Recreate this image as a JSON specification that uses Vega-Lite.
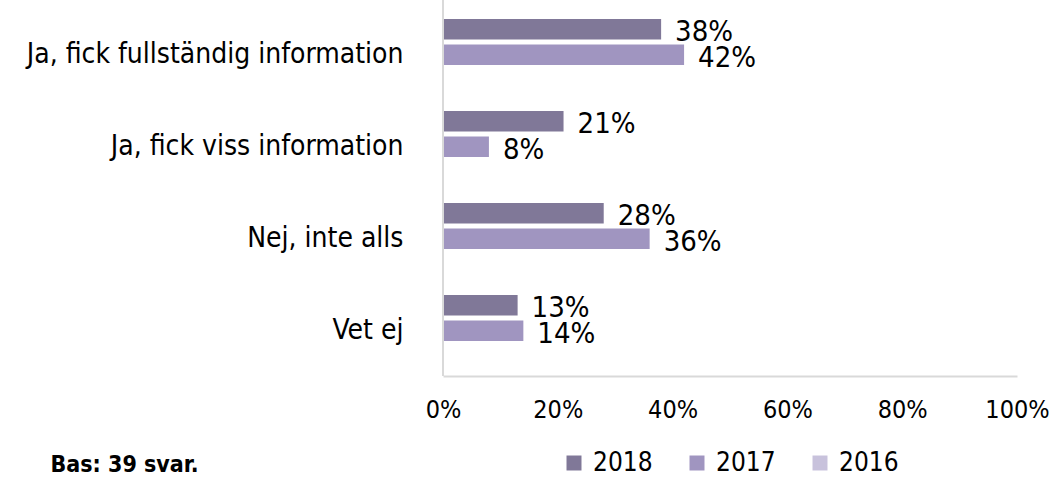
{
  "$schema": "https://vega.github.io/schema/vega-lite/v6.json",
  "width": 574,
  "height": 376,
  "autosize": {"type": "none"},
  "padding": {"left": 443, "top": 0, "right": 36, "bottom": 101},
  "background": "white",
  "config": {
    "view": {"stroke": null},
    "font": "DejaVu Sans Condensed, Liberation Sans Narrow, Liberation Sans, sans-serif"
  },
  "data": {
    "values": [
      {"kategori": "Ja, fick fullständig information", "år": "2018", "andel": 0.38, "etikett": "38%"},
      {"kategori": "Ja, fick fullständig information", "år": "2017", "andel": 0.42, "etikett": "42%"},
      {"kategori": "Ja, fick viss information", "år": "2018", "andel": 0.21, "etikett": "21%"},
      {"kategori": "Ja, fick viss information", "år": "2017", "andel": 0.08, "etikett": "8%"},
      {"kategori": "Nej, inte alls", "år": "2018", "andel": 0.28, "etikett": "28%"},
      {"kategori": "Nej, inte alls", "år": "2017", "andel": 0.36, "etikett": "36%"},
      {"kategori": "Vet ej", "år": "2018", "andel": 0.13, "etikett": "13%"},
      {"kategori": "Vet ej", "år": "2017", "andel": 0.14, "etikett": "14%"}
    ]
  },
  "encoding": {
    "y": {
      "field": "kategori",
      "type": "nominal",
      "sort": null,
      "scale": {"range": [-4, 364], "paddingInner": 0.5, "paddingOuter": 0.25},
      "axis": {
        "title": null,
        "domain": false,
        "ticks": false,
        "labelFontSize": 28,
        "labelColor": "#000000",
        "labelPadding": 40,
        "labelOffset": 13,
        "labelLimit": 440
      }
    },
    "yOffset": {
      "field": "år",
      "type": "nominal",
      "sort": ["2018", "2017"],
      "scale": {"paddingInner": 0.2}
    },
    "x": {
      "field": "andel",
      "type": "quantitative",
      "scale": {"domain": [0, 1]},
      "axis": {
        "title": "Bas: 39 svar.",
        "titleX": -393,
        "titleY": 88,
        "titleAlign": "left",
        "titleAnchor": null,
        "titleBaseline": "middle",
        "titleFontSize": 23,
        "titleFontWeight": "bold",
        "titleColor": "#000000",
        "format": ".0%",
        "values": [0, 0.2, 0.4, 0.6, 0.8, 1],
        "grid": false,
        "ticks": false,
        "domainColor": "#d9d9d9",
        "domainWidth": 2,
        "labelFontSize": 25,
        "labelColor": "#000000",
        "labelPadding": 21,
        "labelFlush": false,
        "labelOverlap": false
      }
    }
  },
  "layer": [
    {
      "mark": {"type": "bar"},
      "encoding": {
        "color": {
          "field": "år",
          "type": "nominal",
          "scale": {"domain": ["2018", "2017", "2016"], "range": ["#807898", "#a095c0", "#c8c2dc"]},
          "legend": {
            "title": null,
            "orient": "none",
            "direction": "horizontal",
            "legendX": 118,
            "legendY": 450,
            "padding": 0,
            "symbolType": "square",
            "symbolSize": 225,
            "symbolStrokeWidth": 0,
            "labelFontSize": 26,
            "labelColor": "#000000",
            "labelOffset": 6,
            "columnPadding": 31
          }
        }
      }
    },
    {
      "mark": {"type": "text", "align": "left", "baseline": "middle", "dx": 14, "dy": 3, "fontSize": 29, "color": "#000000"},
      "encoding": {"text": {"field": "etikett"}}
    },
    {
      "data": {"values": [{"noll": 0}]},
      "mark": {"type": "rule", "color": "#d9d9d9", "strokeWidth": 2},
      "encoding": {"x": {"field": "noll", "type": "quantitative"}, "y": null, "yOffset": null}
    }
  ]
}
